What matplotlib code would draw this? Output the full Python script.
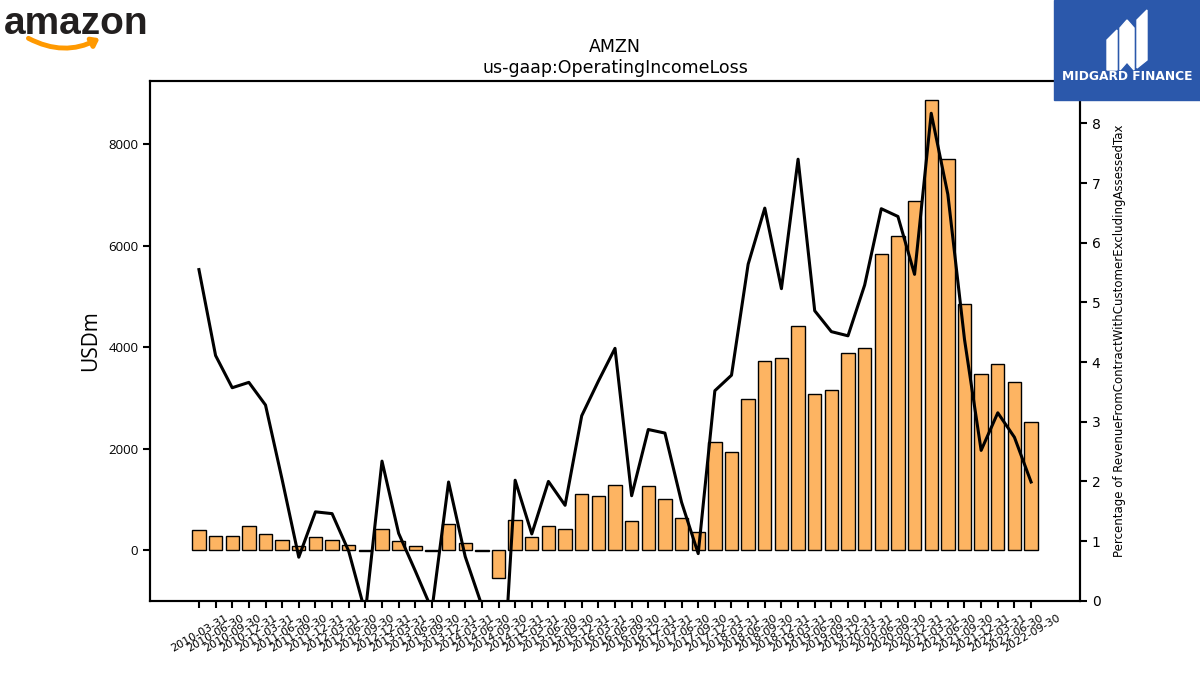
import matplotlib
import matplotlib.pyplot as plt
import numpy as np
from matplotlib.patches import Rectangle, Polygon, FancyArrowPatch

# 분기별 데이터
quarters = [f"{y}-{md}" for y in range(2010, 2023)
            for md in ("03-31", "06-30", "09-30", "12-31")][:51]

op_income = [396, 270, 270, 474, 323, 201, 79, 260,
             192, 107, -28, 405,
             181, 79, -25, 510,
             146, -15, -544, 591,
             255, 464, 406, 1108,
             1071, 1285, 575, 1255,
             1005, 628, 347, 2127,
             1927, 2983, 3724, 3786,
             4420, 3084, 3157, 3879,
             3989, 5843, 6194, 6873,
             8865, 7702, 4852, 3460,
             3669, 3317, 2525]

margin_pct = [5.55, 4.11, 3.57, 3.66, 3.28, 2.03, 0.73, 1.49,
              1.46, 0.83, -0.20, 2.34,
              1.13, 0.50, -0.15, 1.99,
              0.74, -0.08, -2.64, 2.02,
              1.12, 2.00, 1.60, 3.10,
              3.68, 4.23, 1.76, 2.87,
              2.81, 1.65, 0.79, 3.52,
              3.78, 5.64, 6.58, 5.23,
              7.40, 4.86, 4.51, 4.44,
              5.29, 6.57, 6.44, 5.47,
              8.17, 6.81, 4.38, 2.52,
              3.15, 2.74, 1.99]


def graph_config():
    matplotlib.rcParams['axes.linewidth'] = 1.5
    matplotlib.rcParams['xtick.major.width'] = 1.5
    matplotlib.rcParams['ytick.major.width'] = 1.5
    matplotlib.rcParams['xtick.major.size'] = 5
    matplotlib.rcParams['ytick.major.size'] = 5


def px(x, y):
    # 픽셀 좌표 -> figure 좌표
    return x / 1200, 1 - y / 675


def draw_logos(fig):
    # amazon 로고
    fig.text(px(4, 0)[0], px(0, 34)[1], "amazon", fontsize=28, weight='bold',
             family='Liberation Sans', color='#221f1f')
    smile = FancyArrowPatch(px(26, 37), px(102, 37), transform=fig.transFigure,
                            connectionstyle="arc3,rad=0.28", arrowstyle='-|>,head_length=4,head_width=3',
                            color='#ff9900', lw=3.5)
    fig.add_artist(smile)

    # Midgard Finance 로고
    fig.patches.append(Rectangle(px(1054, 100), 146 / 1200, 100 / 675,
                                 transform=fig.transFigure, color='#2b58ab', zorder=5))
    bars = [[(1107, 70), (1107, 40), (1117, 30), (1117, 70)],
            [(1120, 70), (1120, 28), (1127, 20), (1134, 28), (1134, 70), (1127, 62)],
            [(1137, 68), (1137, 20), (1147, 10), (1147, 60)]]
    for b in bars:
        fig.patches.append(Polygon([px(x, y) for x, y in b], closed=True,
                                   transform=fig.transFigure, color='white', zorder=6))
    fig.text(px(1127, 0)[0], px(0, 76)[1], "MIDGARD FINANCE", color='white', weight='bold',
             fontsize=8.8, ha='center', va='center', zorder=7)


def create_graph():
    graph_config()
    fig = plt.figure(figsize=(12, 6.75), dpi=100)
    ax = fig.add_subplot(111)

    x = np.arange(len(quarters))
    ax.bar(x, op_income, width=0.8, color='#fdb462', edgecolor='black', linewidth=1)
    ax.set_ylim(-1000, 9245)
    ax.set_xticks(x)
    ax.set_xticklabels(quarters, rotation=30, fontsize=8)
    ax.set_ylabel("USDm", fontsize=15, family='Open Sans', labelpad=5)
    for lab in ax.get_yticklabels():
        lab.set_family('Open Sans')
        lab.set_fontsize(9.5)
    ax.set_title("AMZN\nus-gaap:OperatingIncomeLoss", fontsize=12.5)

    ax2 = ax.twinx()
    ax2.plot(x, margin_pct, color='black', lw=2.2)
    ax2.set_ylim(bottom=0)
    ax2.set_ylabel("Percentage of RevenueFromContractWithCustomerExcludingAssessedTax",
                   fontsize=8.5, labelpad=9)

    draw_logos(fig)
    plt.savefig('out.png', dpi=100)


if __name__ == "__main__":
    create_graph()
